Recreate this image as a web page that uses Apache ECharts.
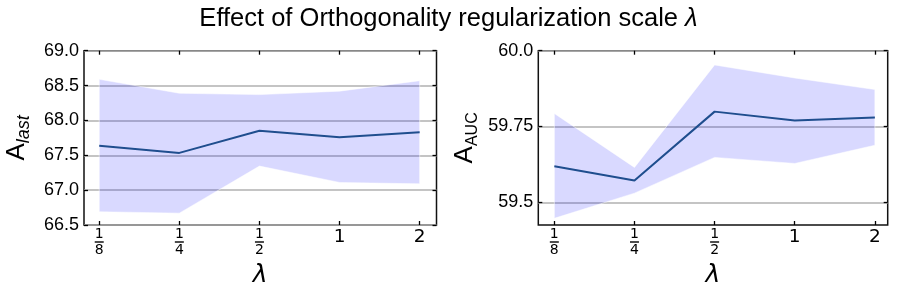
<!DOCTYPE html>
<html><head><meta charset="utf-8">
<script src="https://cdn.jsdelivr.net/npm/echarts@6/dist/echarts.min.js"></script>
<style>html,body{margin:0;padding:0;background:#fff}#c{width:897px;height:299px}</style>
</head><body><div id="c"></div>
<script>
// ---- data ----
const xLabels = ['1/8', '1/4', '1/2', '1', '2'];
const xPos = [0, 1, 2, 3, 4];
const lastMean  = [67.635, 67.534, 67.853, 67.76, 67.83];
const lastUpper = [68.59, 68.39, 68.37, 68.42, 68.57];
const lastLower = [66.69, 66.67, 67.345, 67.11, 67.09];
const aucMean  = [59.619, 59.572, 59.799, 59.77, 59.78];
const aucUpper = [59.793, 59.615, 59.953, 59.91, 59.872];
const aucLower = [59.447, 59.53, 59.648, 59.628, 59.688];
const lastTicks = [66.5, 67.0, 67.5, 68.0, 68.5, 69.0];
const aucTicks = [59.5, 59.75, 60.0];

const FONT = '"Liberation Sans", Arial, sans-serif';
const MATH = '"DejaVu Sans", sans-serif';

function xFmt(v) {
  const i = Math.round(v);
  const lab = xLabels[i];
  if (lab === undefined) return '';
  if (lab.indexOf('/') >= 0) {
    const p = lab.split('/');
    return '{n|' + p[0] + '}\n{bar| }\n{d|' + p[1] + '}';
  }
  return '{big|' + lab + '}';
}
const xRich = {
  n: {fontFamily: MATH, fontSize: 14, lineHeight: 12, color: '#000', align: 'center'},
  bar: {width: 9, height: 1.4, lineHeight: 4, backgroundColor: '#000', fontSize: 1},
  d: {fontFamily: MATH, fontSize: 14, lineHeight: 13, color: '#000', align: 'center'},
  big: {fontFamily: MATH, fontSize: 18.5, lineHeight: 18, color: '#000'}
};

const grids = [
  {left: 84, width: 352.5, top: 50.7, height: 174.3},
  {left: 538.3, width: 349.4, top: 50.7, height: 174.3}
];
const xRanges = [[-0.19, 4.21], [-0.2, 4.16]];
const yRanges = [[66.5, 69.0], [59.425, 60.0]];
const yTickSets = [lastTicks, aucTicks];
const yFmts = [v => v.toFixed(1), v => (Math.abs(v - 60) < 1e-9 || Math.abs(v - 59.5) < 1e-9) ? v.toFixed(1) : v.toFixed(2)];
const yNames = ['{a|A}{s|last}', '{a|A}{u|AUC}'];

const tickStyle = {show: true, inside: true, length: 4, lineStyle: {color: '#000', width: 1.3}};
const noLine = {show: false, onZero: false};
const xAxis = [], yAxis = [], series = [];
grids.forEach((g, k) => {
  g.show = true; g.borderColor = '#111'; g.borderWidth = 1.5; g.backgroundColor = 'transparent';
  xAxis.push({
    type: 'value', gridIndex: k, position: 'bottom', min: xRanges[k][0], max: xRanges[k][1],
    axisLine: noLine, splitLine: {show: false},
    axisTick: Object.assign({customValues: xPos}, tickStyle),
    axisLabel: {customValues: xPos, formatter: xFmt, rich: xRich, margin: 3, verticalAlign: 'top'},
    name: '{l|λ}', nameLocation: 'middle', nameGap: 38,
    nameTextStyle: {rich: {l: {fontFamily: MATH, fontStyle: 'italic', fontSize: 25, color: '#000'}}}
  });
  xAxis.push({
    type: 'value', gridIndex: k, position: 'top', min: xRanges[k][0], max: xRanges[k][1],
    axisLine: noLine, splitLine: {show: false},
    axisTick: Object.assign({customValues: xPos}, tickStyle),
    axisLabel: {show: false}
  });
  yAxis.push({
    type: 'value', gridIndex: k, position: 'left', min: yRanges[k][0], max: yRanges[k][1],
    axisLine: noLine,
    axisTick: Object.assign({customValues: yTickSets[k]}, tickStyle),
    splitLine: {show: true, lineStyle: {color: '#b0b0b0', width: 1.5}},
    axisLabel: {customValues: yTickSets[k], formatter: yFmts[k], fontFamily: FONT, fontSize: 18, color: '#000', margin: 5},
    name: yNames[k], nameLocation: 'middle', nameRotate: 90, nameGap: 51,
    nameTextStyle: {rich: {
      a: {fontFamily: FONT, fontSize: 26, lineHeight: 26, padding: [0, 0, 7, 0], color: '#000'},
      s: {fontFamily: FONT, fontStyle: 'italic', fontSize: 18, lineHeight: 18, verticalAlign: 'bottom', color: '#000'},
      u: {fontFamily: FONT, fontSize: 16, lineHeight: 16, verticalAlign: 'bottom', color: '#000'}
    }}
  });
  yAxis.push({
    type: 'value', gridIndex: k, position: 'right', min: yRanges[k][0], max: yRanges[k][1],
    axisLine: noLine, splitLine: {show: false},
    axisTick: Object.assign({customValues: yTickSets[k]}, tickStyle),
    axisLabel: {show: false}
  });
});

function bandSeries(k, up, lo) {
  return {
    type: 'custom', xAxisIndex: 2 * k, yAxisIndex: 2 * k, silent: true, z: 2,
    data: [0],
    renderItem: function (params, api) {
      const pts = [];
      for (let i = 0; i < xPos.length; i++) pts.push(api.coord([xPos[i], up[i]]));
      for (let i = xPos.length - 1; i >= 0; i--) pts.push(api.coord([xPos[i], lo[i]]));
      return {type: 'polygon', shape: {points: pts}, style: {fill: 'rgba(0,0,255,0.15)', stroke: 'rgba(255,255,255,0.5)', lineWidth: 1}};
    }
  };
}
function lineSeries(k, m) {
  return {
    type: 'line', xAxisIndex: 2 * k, yAxisIndex: 2 * k, z: 3, silent: true,
    data: xPos.map((x, i) => [x, m[i]]), showSymbol: false, symbol: 'none',
    lineStyle: {color: '#1f4e8e', width: 2}
  };
}
series.push(bandSeries(0, lastUpper, lastLower), lineSeries(0, lastMean));
series.push(bandSeries(1, aucUpper, aucLower), lineSeries(1, aucMean));

const chart = echarts.init(document.getElementById('c'), null, {renderer: 'canvas'});
chart.setOption({
  animation: false,
  title: {
    text: '{t|Effect of Orthogonality regularization scale }{l|λ}',
    left: 'center', top: 1,
    textStyle: {fontWeight: 'normal', rich: {
      t: {fontFamily: FONT, fontSize: 25.5, fontWeight: 'normal', color: '#000'},
      l: {fontFamily: FONT, fontStyle: 'italic', fontSize: 25.5, fontWeight: 'normal', color: '#000'}
    }}
  },
  grid: grids, xAxis: xAxis, yAxis: yAxis, series: series
});
</script></body></html>
